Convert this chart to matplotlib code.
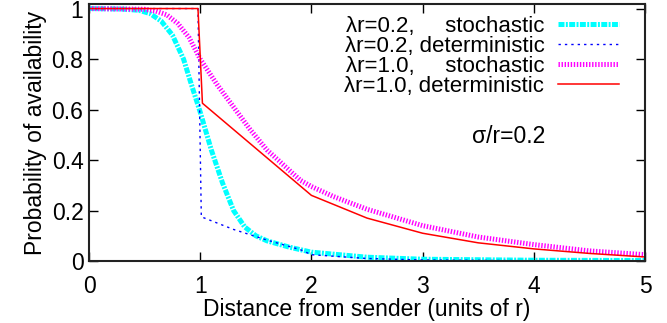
import matplotlib
matplotlib.use("Agg")
import matplotlib.pyplot as plt

# --> Data
dist_sto02 = [0.0, 0.3, 0.45, 0.55, 0.65, 0.75, 0.85, 0.92, 1.0, 1.1, 1.2, 1.3, 1.4, 1.5,
              1.6, 1.8, 2.0, 2.5, 3.0, 4.0, 5.0]
prob_sto02 = [1.0, 0.998, 0.993, 0.98, 0.95, 0.895, 0.80, 0.70, 0.59, 0.44, 0.31, 0.20, 0.135, 0.10,
              0.08, 0.055, 0.035, 0.015, 0.007, 0.003, 0.002]

dist_det02 = [0.0, 0.98, 1.01, 1.3, 1.6, 1.9, 2.0, 2.5, 3.0, 4.0, 5.0]
prob_det02 = [1.0, 1.0, 0.175, 0.125, 0.083, 0.045, 0.025, 0.01, 0.004, 0.001, 0.0]

dist_sto10 = [0.0, 0.5, 0.6, 0.7, 0.8, 0.9, 1.0, 1.15, 1.3, 1.45, 1.6, 1.9, 2.0, 2.2, 2.5,
              3.0, 3.5, 4.0, 4.5, 5.0]
prob_sto10 = [1.0, 0.997, 0.99, 0.975, 0.94, 0.885, 0.80, 0.70, 0.61, 0.52, 0.44, 0.32, 0.295, 0.255, 0.205,
              0.14, 0.095, 0.065, 0.04, 0.025]

dist_det10 = [0.0, 0.98, 1.02, 2.0, 2.5, 3.0, 3.5, 4.0, 4.5, 5.0]
prob_det10 = [1.0, 1.0, 0.625, 0.26, 0.17, 0.11, 0.072, 0.048, 0.03, 0.016]

labels = [u"\u03bbr=0.2,     stochastic",
          u"\u03bbr=0.2, deterministic",
          u"\u03bbr=1.0,     stochastic",
          u"\u03bbr=1.0, deterministic"]

x_ticks = [0, 1, 2, 3, 4, 5]
y_ticks = [0, 0.2, 0.4, 0.6, 0.8, 1]
y_tick_labels = ["0", "0.2", "0.4", "0.6", "0.8", "1"]

# --> Style
plt.rcParams['font.family'] = ['Liberation Sans', 'DejaVu Sans']
plt.rcParams['font.size'] = 16.5
plt.rcParams['lines.scale_dashes'] = False

fig = plt.figure(figsize=(6.67, 3.23), dpi=100)
ax = fig.add_axes([89 / 667, 1 - 261 / 323, 556 / 667, 257 / 323])

ax.plot(dist_sto02, prob_sto02, color='#00FFFF', lw=3.6, dashes=(4.3, 1.0, 1.4, 1.0),
        dash_capstyle='butt', label=labels[0])
ax.plot(dist_det02, prob_det02, color='#0000FF', lw=1.0, dashes=(1.7, 2.9),
        dash_capstyle='butt', label=labels[1])
ax.plot(dist_sto10, prob_sto10, color='#FF00FF', lw=3.6, dashes=(1.0, 1.2),
        dash_capstyle='butt', label=labels[2])
ax.plot(dist_det10, prob_det10, color='#FF0000', lw=1.1, label=labels[3])

ax.set_xlim(0, 5)
ax.set_ylim(0, 1.018)
ax.set_xticks(x_ticks)
ax.set_yticks(y_ticks)
ax.set_yticklabels(y_tick_labels)
ax.tick_params(direction='in', length=6.5, width=1.0, top=True, right=True)
ax.tick_params(axis='x', pad=10)
ax.tick_params(axis='y', pad=4)
for s in ax.spines.values():
    s.set_linewidth(1.5)
    s.set_color('#222222')

ax.set_xlabel("Distance from sender (units of r)", labelpad=0)
ax.set_ylabel("Probability of availability", labelpad=3)

ax.legend(loc='upper right', bbox_to_anchor=(0.953, 0.954), frameon=False,
          markerfirst=False, handlelength=2.75, handletextpad=0.6,
          labelspacing=-0.045, borderpad=0, borderaxespad=0, fontsize=16)

ax.text(0.821, 0.485, u"\u03c3/r=0.2", transform=ax.transAxes, ha='right', va='center')

fig.savefig("out.png", dpi=100)
